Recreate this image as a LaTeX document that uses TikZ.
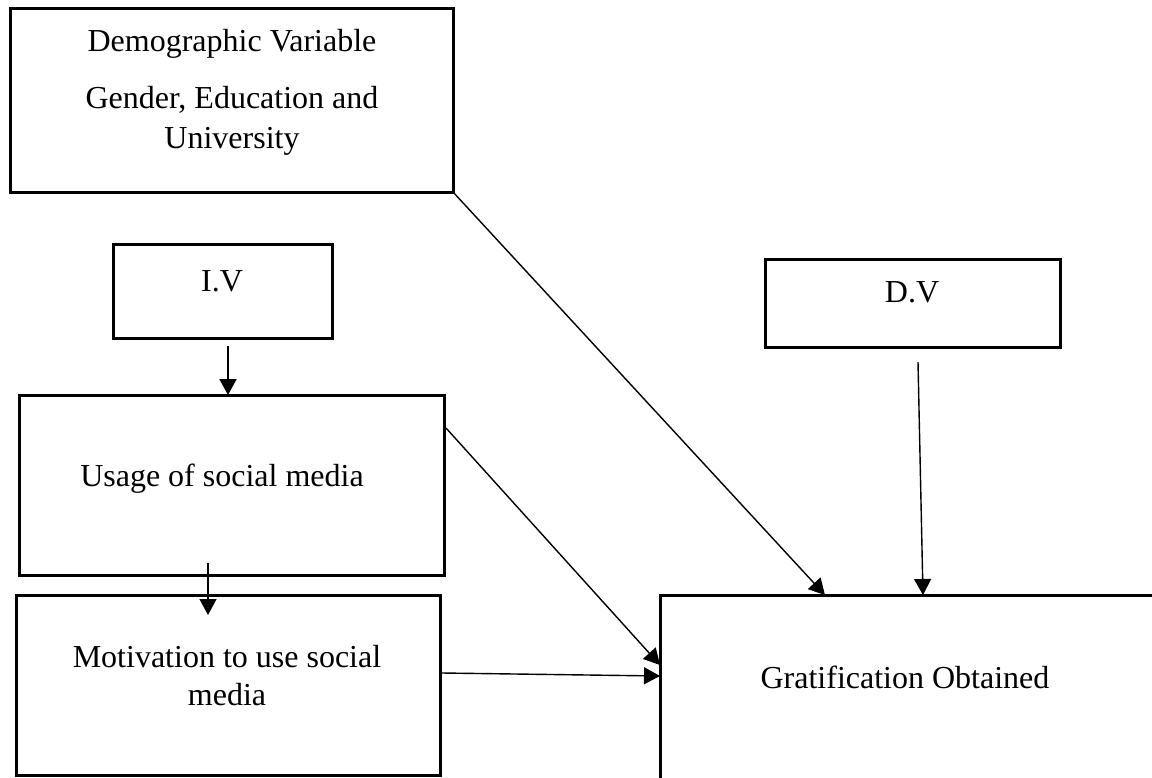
\documentclass[tikz,border=0pt]{standalone}
\usepackage{fontspec}
\setmainfont{Liberation Serif}
\usetikzlibrary{calc}
\usetikzlibrary{arrows.meta}
\tikzset{block/.style={rectangle,draw=black,line width=1.5pt,inner sep=0pt,outer sep=0pt},
blocktext/.style={anchor=base,align=center,inner sep=0pt,font=\fontsize{16}{19}\selectfont},
arr/.style={->,line width=0.7pt},
>={Triangle[length=8pt,width=8.5pt]}}

\begin{document}
\begin{tikzpicture}[x=0.5pt,y=-0.5pt]
  \clip (0,0) rectangle (1152,777);
  \node (demo) [block,minimum width=221.5pt,minimum height=92pt] at (231.5,100) {};
  \node (iv) [block,minimum width=109.5pt,minimum height=47pt] at (222.5,291) {};
  \node (dv) [block,minimum width=147.5pt,minimum height=44pt] at (912.5,303) {};
  \node (usage) [block,minimum width=212.5pt,minimum height=90pt] at (231.5,485) {};
  \node (motiv) [block,minimum width=212pt,minimum height=90pt] at (228,685) {};
  \node (grat) [block,minimum width=260pt,minimum height=102.5pt] at (920,697.5) {};

  \node (demol) [blocktext] at (232,148) {Demographic Variable\\[9.5pt] Gender, Education and\\[1pt] University};
  \node (ivl) [blocktext] at (222,291) {I.V};
  \node (dvl) [blocktext] at (912,302) {D.V};
  \node (usagel) [blocktext] at (222,486) {Usage of social media};
  \node (motivl) [blocktext] at (227,705) {Motivation to use social\\ media};
  \node (gratl) [blocktext] at (905,688) {Gratification Obtained};

  \coordinate (ivout) at ($(iv.south)+(5.5,8)$);
  \coordinate (dvout) at ($(dv.south)+(5.5,15)$);
  \coordinate (usageout) at ($(usage.south)+(-23.5,-12)$);
  \coordinate (motivin) at ($(motiv.north)+(-20,20)$);

  \draw [arr] (ivout) -- (ivout |- usage.north);
  \draw [arr] (usageout) -- (motivin);
  \draw [arr] (dvout) -- ($(grat.north west)+(263,0)$);
  \draw [arr] (demo.south east) -- ($(grat.north west)+(165,0)$);
  \draw [arr] ($(usage.east)+(2,-57)$) -- ($(grat.north west)+(0,70)$);
  \draw [arr] ($(motiv.east)+(2,-12)$) -- ($(grat.north west)+(0,81)$);
\end{tikzpicture}
\end{document}
